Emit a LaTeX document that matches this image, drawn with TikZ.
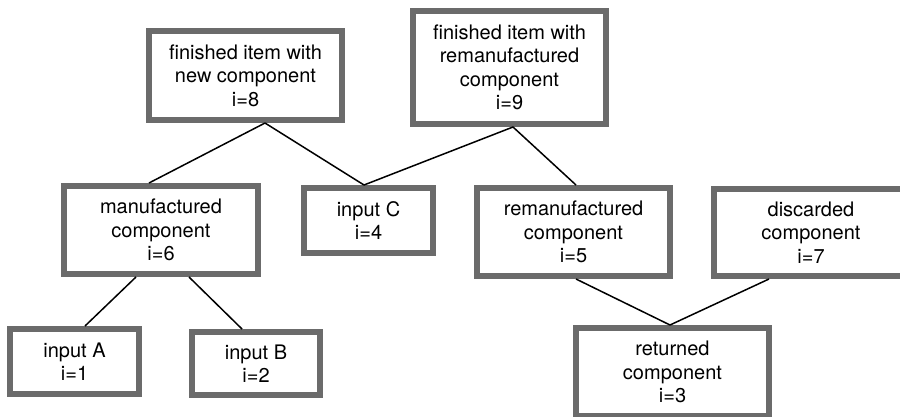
\documentclass[tikz,border=0pt]{standalone}
\usepackage{fontspec}
\setmainfont{TeX Gyre Heros}
\usetikzlibrary{calc}
\definecolor{boxgray}{HTML}{6B6B6B}
\begin{document}
\begin{tikzpicture}[x=1pt,y=-1pt,
  item/.style={draw=boxgray, line width=6pt, fill=white, align=center,
    font=\fontsize{20}{23.5}\selectfont, inner sep=0pt},
  link/.style={draw=black, line width=1.5pt}]
  \clip (0,0) rectangle (900,416);
  \useasboundingbox (0,0) rectangle (900,416);

  % finished items
  \node[item, minimum width=193pt, minimum height=89pt] (b8) at (245.5,75.5)
    {finished item with\\new component\\i=8};
  \node[item, minimum width=193pt, minimum height=113pt] (b9) at (509.5,67.5)
    {finished item with\\remanufactured\\component\\i=9};

  % components and inputs
  \node[item, minimum width=194pt, minimum height=88pt] (b6) at (161,230)
    {manufactured\\component\\i=6};
  \node[item, minimum width=129pt, minimum height=65pt] (b4) at (368.5,220.5)
    {input C\\i=4};
  \node[item, minimum width=193pt, minimum height=88pt] (b5) at (573.5,232)
    {remanufactured\\component\\i=5};
  \node[item, minimum width=194pt, minimum height=87pt] (b7) at (811,232.5)
    {discarded\\component\\i=7};
  \node[item, minimum width=129pt, minimum height=65pt] (b1) at (74.5,361.5)
    {input A\\i=1};
  \node[item, minimum width=128pt, minimum height=63pt] (b2) at (256,363.5)
    {input B\\i=2};
  \node[item, minimum width=193pt, minimum height=88pt] (b3) at (672.5,372)
    {returned\\component\\i=3};

  % connectors
  \draw[link] ([xshift=19.5pt]b8.south) -- ([xshift=-12pt]b6.north);
  \draw[link] ([xshift=19.5pt]b8.south) -- ([xshift=-4.5pt]b4.north);
  \draw[link] ([xshift=3.5pt]b9.south) -- ([xshift=-4.5pt]b4.north);
  \draw[link] ([xshift=3.5pt]b9.south) -- ([xshift=2.5pt]b5.north);
  \draw[link] ([xshift=-25pt]b6.south) -- ([xshift=10.5pt]b1.north);
  \draw[link] ([xshift=28pt]b6.south) -- ([xshift=-14pt]b2.north);
  \draw[link] ([xshift=2.5pt]b5.south) -- ([xshift=-2.5pt]b3.north);
  \draw[link] ([xshift=-42pt]b7.south) -- ([xshift=-2.5pt]b3.north);
\end{tikzpicture}
\end{document}
